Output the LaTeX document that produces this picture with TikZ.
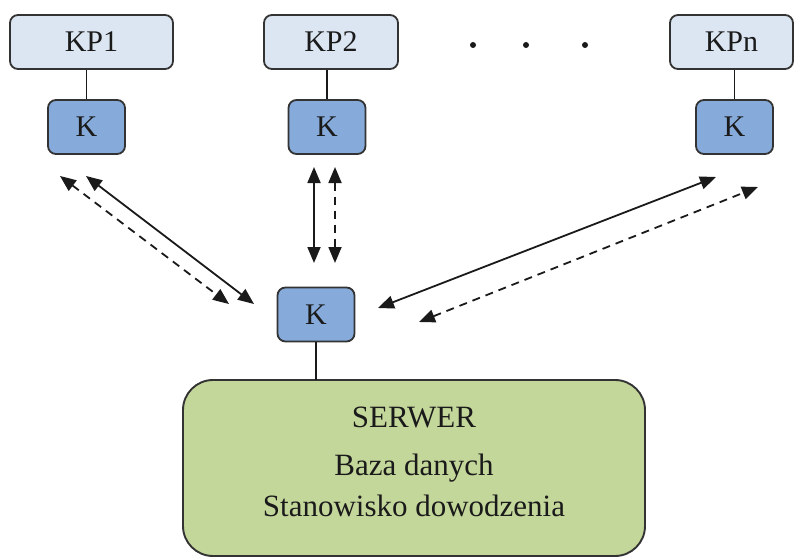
\documentclass[tikz,border=0pt]{standalone}
\usepackage{fontspec}
\setmainfont{Liberation Serif}
\usetikzlibrary{arrows.meta}
\definecolor{kpfill}{HTML}{DCE6F2}
\definecolor{kfill}{HTML}{86ABDB}
\definecolor{srvfill}{HTML}{C4D79B}
\definecolor{edge}{HTML}{333333}
\definecolor{ink}{HTML}{1A1A1A}
\tikzset{
  kpbox/.style={draw=edge, line width=1.8pt, fill=kpfill, rounded corners=8pt,
    inner sep=0pt, text=ink, font=\fontsize{30}{34}\selectfont},
  kbox/.style={draw=edge, line width=1.8pt, fill=kfill, rounded corners=8pt,
    minimum width=77pt, minimum height=54pt, inner sep=0pt, text=ink,
    font=\fontsize{30}{34}\selectfont},
  srvtext/.style={text=ink, font=\fontsize{31}{36}\selectfont, inner sep=0pt},
  link/.style={draw=ink, line width=1.7pt},
  dbl/.style={draw=ink, line width=1.8pt,
    {Triangle[length=16pt,width=13pt]}-{Triangle[length=16pt,width=13pt]}},
  dbldash/.style={dbl, dash pattern=on 8pt off 6pt},
}
\begin{document}
\begin{tikzpicture}[x=1pt,y=-1pt]
\useasboundingbox (0,0) rectangle (795,559);

% terminal points
\node[kpbox, minimum width=163pt, minimum height=54pt] (kp1) at (91.5,42) {KP1};
\node[kpbox, minimum width=134pt, minimum height=54pt] (kp2) at (331,42) {KP2};
\node[kpbox, minimum width=123pt, minimum height=54pt] (kpn) at (731.5,42) {KPn};

% their communication modules
\node[kbox] (k1) at (86.5,127) {K};
\node[kbox] (k2) at (327,127) {K};
\node[kbox] (kn) at (734.5,127) {K};

\draw[link] (k1.north) -- (k1.north |- kp1.south);
\draw[link] (k2.north) -- (k2.north |- kp2.south);
\draw[link] (kn.north) -- (kn.north |- kpn.south);

% ellipsis between KP2 and KPn
\foreach \x/\n in {473/d1, 526/d2, 585/d3}
  \fill[ink] (\x,45) circle (3pt) coordinate (\n);

% central module and server
\node[kbox] (kc) at (316,314.5) {K};
\draw[draw=edge, line width=1.9pt, fill=srvfill, rounded corners=30pt]
  (183,380) rectangle (645,556);
\coordinate (srvtop) at (316,380);
\draw[link] (kc.south) -- (srvtop);
\node[srvtext] (srv) at (414,417) {SERWER};
\node[srvtext] (db) at (414,468) {Baza danych};
\node[srvtext] (cmd) at (414,506) {Stanowisko dowodzenia};

% link endpoints
\coordinate (l1a) at (60,176);  \coordinate (l1b) at (229,304);
\coordinate (l2a) at (86,176);  \coordinate (l2b) at (254,304);
\coordinate (v1a) at (314,167); \coordinate (v1b) at (314,263);
\coordinate (v2a) at (335,167); \coordinate (v2b) at (335,263);
\coordinate (r1a) at (378,308); \coordinate (r1b) at (716,177);
\coordinate (r2a) at (419,322); \coordinate (r2b) at (758,187);

\draw[dbldash] (l1a) -- (l1b);
\draw[dbl] (l2a) -- (l2b);
\draw[dbl] (v1a) -- (v1b);
\draw[dbldash] (v2a) -- (v2b);
\draw[dbl] (r1a) -- (r1b);
\draw[dbldash] (r2a) -- (r2b);
\end{tikzpicture}
\end{document}
